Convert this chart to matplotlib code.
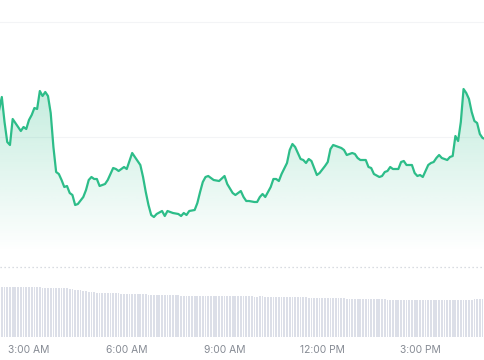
import numpy as np
import pandas as pd
import matplotlib
matplotlib.use('Agg')
import matplotlib.pyplot as plt
import matplotlib.dates as mdates

day = '2024-05-01 '

# price line (time of sample, price)
price_times = [
    '02:05', '02:10', '02:15', '02:20', '02:25', '02:30', '02:35', '02:45', '02:50', '02:55',
    '03:00', '03:05', '03:10', '03:15', '03:20', '03:25', '03:30', '03:35', '03:40', '03:45',
    '03:50', '03:55', '04:00', '04:05', '04:10', '04:15', '04:20', '04:25', '04:30', '04:40',
    '04:45', '04:50', '04:55', '05:00', '05:05', '05:10', '05:20', '05:25', '05:35', '05:40',
    '05:45', '05:55', '06:00', '06:10', '06:15', '06:25', '06:30', '06:35', '06:40', '06:45',
    '06:50', '06:55', '07:05', '07:10', '07:15', '07:25', '07:35', '07:40', '07:45', '07:50',
    '07:55', '08:05', '08:10', '08:15', '08:20', '08:25', '08:30', '08:40', '08:50', '09:00',
    '09:05', '09:15', '09:20', '09:30', '09:35', '09:40', '09:45', '09:55', '10:00', '10:05',
    '10:10', '10:15', '10:25', '10:30', '10:35', '10:40', '10:45', '10:55', '11:00', '11:05',
    '11:10', '11:15', '11:20', '11:25', '11:30', '11:35', '11:40', '11:45', '11:50', '11:55',
    '12:05', '12:10', '12:15', '12:20', '12:25', '12:35', '12:40', '12:45', '12:55', '13:00',
    '13:05', '13:10', '13:20', '13:25', '13:30', '13:35', '13:45', '13:50', '13:55', '14:00',
    '14:05', '14:10', '14:20', '14:25', '14:30', '14:35', '14:45', '14:50', '14:55', '15:00',
    '15:05', '15:10', '15:15', '15:20', '15:25', '15:30', '15:35', '15:40', '15:50', '15:55',
    '16:00', '16:05', '16:10', '16:15', '16:20', '16:25', '16:30', '16:35', '16:40', '16:45',
    '16:50', '16:55', '17:00',
]
prices = [
    1027, 1040, 1015, 995, 992, 1018, 1014, 1006, 1010, 1008,
    1017, 1022, 1029, 1028, 1046, 1041, 1045, 1041, 1024, 990,
    965, 963, 957, 950, 951, 944, 942, 932, 933, 940,
    947, 957, 960, 958, 958, 951, 953, 957, 969, 968,
    966, 970, 968, 984, 980, 972, 960, 945, 932, 922,
    920, 923, 926, 921, 926, 924, 923, 921, 924, 922,
    926, 927, 934, 945, 955, 960, 961, 957, 956, 961,
    953, 944, 942, 946, 940, 936, 936, 935, 935, 940,
    943, 940, 950, 958, 958, 956, 963, 974, 987, 993,
    990, 984, 978, 977, 974, 978, 976, 969, 962, 964,
    971, 975, 988, 992, 991, 989, 987, 982, 984, 983,
    979, 977, 977, 970, 969, 963, 960, 961, 965, 966,
    970, 968, 968, 975, 976, 972, 972, 964, 961, 962,
    960, 966, 972, 974, 975, 979, 982, 979, 977, 980,
    981, 1001, 996, 1015, 1048, 1044, 1038, 1025, 1016, 1014,
    1003, 999, 998,
]

# volume bars, one every 5 minutes from 02:05 to 17:00
volumes = [
    50, 50, 50.5, 50, 50, 50.5, 50.5, 50, 50, 50.5, 50.5, 50.5, 50, 50, 50, 50, 49.5, 49.5, 49.5, 49.5,
    49.5, 49.5, 49, 49, 49, 49, 48.5, 48, 47.5, 47, 47, 46.5, 46, 45.5, 45, 45, 44.5, 44.5, 44.5, 44,
    44, 44, 44, 44, 44, 43.5, 43.5, 43.5, 43.5, 43, 43, 43, 43, 43, 43, 42.5, 42.5, 42.5, 42.5, 42,
    42, 42, 42, 42, 42, 42, 42, 41.5, 41.5, 41.5, 41.5, 41.5, 41.5, 41.5, 41.5, 41, 41, 41, 41, 41,
    41, 41, 41, 41, 41, 41, 41, 41, 41, 41, 41, 41, 41, 41, 40.5, 40.5, 41, 41, 40.5, 40.5,
    40.5, 40.5, 40.5, 40.5, 40, 40, 40.5, 40.5, 40, 40, 40, 40, 40, 40, 39.5, 39.5, 39.5, 39.5, 39.5, 39.5,
    39.5, 39, 39, 39, 39, 39, 39, 39, 38.5, 38.5, 38.5, 38.5, 38.5, 38.5, 38, 38, 38, 38, 38, 38,
    38, 38, 38, 37.5, 37.5, 37.5, 37.5, 37.5, 37.5, 37.5, 37.5, 37.5, 37.5, 37.5, 37.5, 37, 37, 37, 37, 37,
    37.5, 37.5, 37.5, 37.5, 37.5, 37.5, 37.5, 37.5, 37.5, 37.5, 37.5, 37.5, 37.5, 37.5, 37.5, 38, 38, 38, 38, 38,
]

tick_times = ['03:00', '06:00', '09:00', '12:00', '15:00']
tick_labels = ['3:00 AM', '6:00 AM', '9:00 AM', '12:00 PM', '3:00 PM']

green = '#2dbd89'
t = pd.to_datetime([day + s for s in price_times])
p = np.array(prices, dtype=float)
vt = pd.date_range(day + '02:05', periods=len(volumes), freq='5min')
x0 = pd.Timestamp(day + '02:06:40')
x1 = pd.Timestamp(day + '16:59:30')
base = 885

fig = plt.figure(figsize=(4.85, 3.6), dpi=100)

# price panel
ax = fig.add_axes([0, 0, 1, 1])
ax.set_xlim(x0, x1)
ax.set_ylim(777, 1137)
for g in [1000, 1115]:
    ax.axhline(g, color='#f3f4f6', lw=0.8, zorder=0)

poly = ax.fill_between(t, p, base, color='none', lw=0)
grad = np.zeros((256, 1, 4))
grad[:, 0, :3] = matplotlib.colors.to_rgb(green)
grad[:, 0, 3] = np.linspace(0.0, 0.28, 256)
img = ax.imshow(grad, aspect='auto', origin='lower', zorder=1,
                extent=[mdates.date2num(x0), mdates.date2num(x1), base, 1050])
img.set_clip_path(poly.get_paths()[0], transform=ax.transData)
ax.plot(t, p, color=green, lw=1.6, zorder=3, solid_joinstyle='round')
ax.set_xlim(x0, x1)
ax.set_ylim(777, 1137)
ax.axis('off')

# volume panel
vax = fig.add_axes([0, 23 / 360, 1, 70 / 360])
vax.patch.set_alpha(0)
vax.bar(vt, volumes, width=pd.Timedelta(minutes=3.3), color='#dcdfe8', align='center')
vax.axhline(70, color='#cdd1d8', lw=0.9, ls=(0, (1, 2.2)), clip_on=False)
vax.set_xlim(x0, x1)
vax.set_ylim(0, 70)
vax.set_yticks([])
vax.set_xticks(pd.to_datetime([day + s for s in tick_times]))
vax.set_xticklabels(tick_labels, fontsize=7.4, color='#868b94', family='Inter')
vax.tick_params(axis='x', length=0, pad=5.5)
for s in vax.spines.values():
    s.set_visible(False)

fig.savefig('out.png', dpi=100)
